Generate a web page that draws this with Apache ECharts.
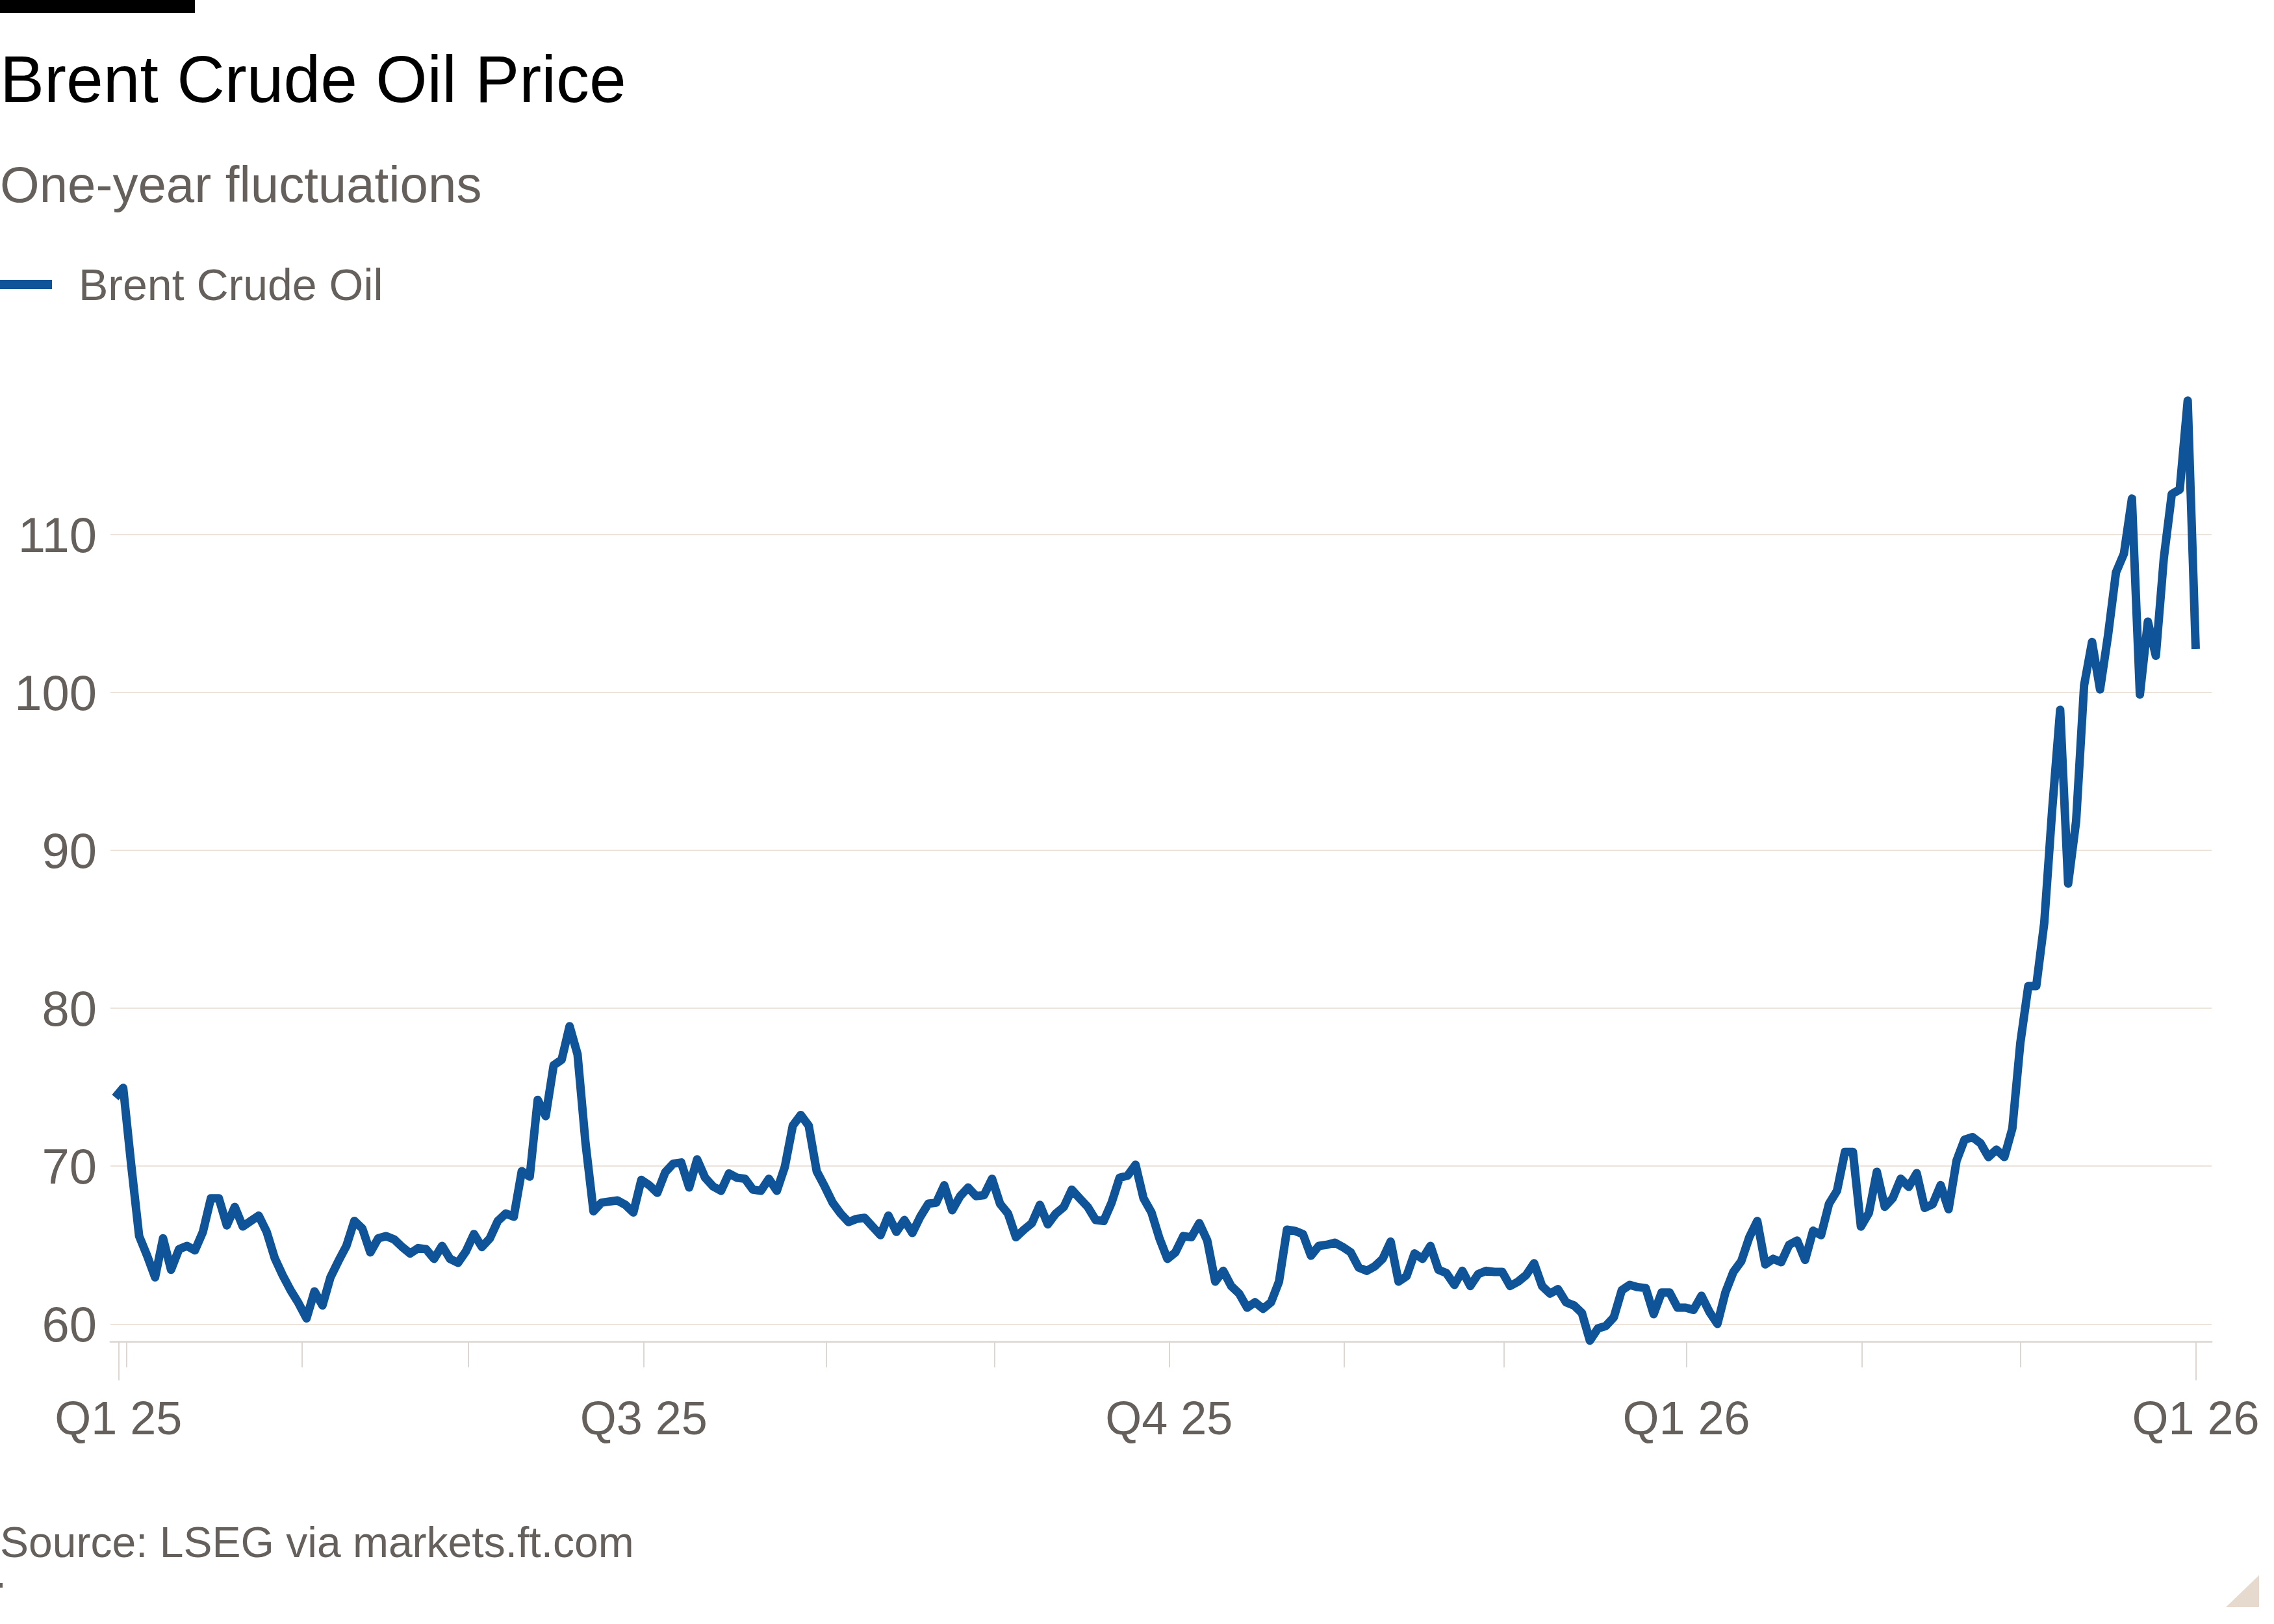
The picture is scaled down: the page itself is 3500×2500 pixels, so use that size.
<!DOCTYPE html>
<html>
<head>
<meta charset="utf-8">
<title>Brent Crude Oil Price</title>
<script src="https://cdn.jsdelivr.net/npm/echarts@6/dist/echarts.min.js"></script>
<style>
  html, body { margin: 0; padding: 0; background: #ffffff; }
  #chart { width: 3500px; height: 2500px; }
</style>
</head>
<body>
<div id="chart"></div>
<script>
// daily closes, one per trading day
const brentPrices = [
  74.35, 74.96, 70.10, 65.57, 64.33, 62.96, 65.43, 63.44, 64.74, 64.95,
  64.67, 65.84, 67.96, 67.96, 66.25, 67.42, 66.18, 66.53, 66.87, 65.84,
  64.19, 63.10, 62.14, 61.32, 60.36, 62.07, 61.18, 62.96, 63.99, 64.95,
  66.53, 66.05, 64.54, 65.43, 65.57, 65.36, 64.88, 64.47, 64.81, 64.74,
  64.13, 64.95, 64.13, 63.88, 64.61, 65.70, 64.88, 65.43, 66.53, 67.00,
  66.80, 69.68, 69.34, 74.20, 73.17, 76.39, 76.74, 78.86, 77.08, 71.46,
  67.14, 67.69, 67.76, 67.83, 67.55, 67.07, 69.13, 68.79, 68.31, 69.61,
  70.16, 70.23, 68.65, 70.43, 69.27, 68.72, 68.44, 69.54, 69.27, 69.20,
  68.51, 68.44, 69.20, 68.44, 69.95, 72.56, 73.24, 72.56, 69.68, 68.72,
  67.69, 67.00, 66.46, 66.66, 66.73, 66.18, 65.63, 66.87, 65.84, 66.59,
  65.77, 66.80, 67.62, 67.69, 68.79, 67.21, 68.10, 68.65, 68.10, 68.17,
  69.20, 67.62, 67.00, 65.50, 65.98, 66.39, 67.55, 66.32, 67.00, 67.42,
  68.51, 67.96, 67.42, 66.59, 66.53, 67.69, 69.27, 69.40, 70.09, 67.97,
  67.07, 65.43, 64.13, 64.54, 65.57, 65.50, 66.39, 65.29, 62.69, 63.37,
  62.41, 61.93, 61.04, 61.38, 60.97, 61.38, 62.69, 65.98, 65.90, 65.70,
  64.33, 64.95, 65.02, 65.15, 64.88, 64.54, 63.58, 63.37, 63.65, 64.13,
  65.22, 62.69, 63.03, 64.47, 64.13, 64.95, 63.44, 63.23, 62.48, 63.37,
  62.41, 63.17, 63.37, 63.30, 63.30, 62.41, 62.69, 63.10, 63.85, 62.41,
  61.93, 62.21, 61.38, 61.18, 60.70, 58.95, 59.72, 59.88, 60.43, 62.14,
  62.48, 62.34, 62.28, 60.63, 62.00, 62.00, 61.04, 61.04, 60.90, 61.79,
  60.77, 60.01, 62.00, 63.30, 63.99, 65.50, 66.53, 63.78, 64.13, 63.92,
  65.02, 65.29, 64.06, 65.91, 65.63, 67.62, 68.44, 70.90, 70.90, 66.17,
  67.04, 69.64, 67.43, 67.98, 69.21, 68.69, 69.56, 67.36, 67.59, 68.80,
  67.27, 70.35, 71.68, 71.84, 71.46, 70.58, 71.05, 70.58, 72.39, 77.80,
  81.41, 81.41, 85.40, 92.60, 98.90, 87.90, 91.85, 100.45, 103.20, 100.20,
  103.60, 107.60, 108.80, 112.28, 99.87, 104.49, 102.33, 108.50, 112.57, 112.86,
  118.49, 102.76
];

// y axis
const priceTicks = [60, 70, 80, 90, 100, 110];

// x axis, in trading-day positions
const monthTicks = [1.4, 23.4, 44.3, 66.3, 89.2, 110.3, 132.2, 154.2, 174.2, 197.1, 219.1, 239.0];
const endTicks = [0.4, 261];
const quarterTickPositions = [0.4, 66.3, 132.2, 197.1, 261];
const quarterLabels = ['Q1 25', 'Q3 25', 'Q4 25', 'Q1 26', 'Q1 26'];

const FONT = '"Liberation Sans", Arial, sans-serif';
const GREY = '#66605c';
const BLUE = '#0f5499';

const chart = echarts.init(document.getElementById('chart'), null, { renderer: 'svg' });

const seriesData = brentPrices.map((v, i) => [i, v]);

function quarterLabel(value) {
  let best = 0;
  quarterTickPositions.forEach((p, i) => {
    if (Math.abs(p - value) < Math.abs(quarterTickPositions[best] - value)) best = i;
  });
  return quarterLabels[best];
}

chart.setOption({
  animation: false,
  backgroundColor: '#ffffff',
  textStyle: { fontFamily: FONT },
  title: [
    {
      text: 'Brent Crude Oil Price',
      left: 0, top: 71, padding: 0,
      textStyle: { fontFamily: FONT, fontSize: 102, fontWeight: 'normal', color: '#000000' }
    },
    {
      text: 'One-year fluctuations',
      left: 0, top: 245, padding: 0,
      textStyle: { fontFamily: FONT, fontSize: 78, fontWeight: 'normal', color: GREY }
    },
    {
      text: 'Source: LSEG via markets.ft.com',
      left: 0, top: 2341, padding: 0,
      textStyle: { fontFamily: FONT, fontSize: 66, fontWeight: 'normal', color: GREY }
    }
  ],
  legend: {
    left: 0, top: 404, padding: 0,
    icon: 'rect',
    itemWidth: 80, itemHeight: 14,
    textStyle: { fontFamily: FONT, fontSize: 68, color: GREY, padding: [0, 0, 0, 36] },
    data: ['Brent Crude Oil']
  },
  grid: {
    left: 170, right: 96, top: 614, bottom: 435,
    containLabel: false,
    outerBoundsMode: 'none'
  },
  xAxis: [
    {
      type: 'value',
      min: -0.6, max: 263,
      position: 'bottom',
      axisLine: { show: true, lineStyle: { color: '#e0dbd6', width: 3 } },
      axisTick: { show: true, customValues: monthTicks, length: 40, lineStyle: { color: '#dcd7d2', width: 2 } },
      axisLabel: {
        show: true,
        customValues: quarterTickPositions,
        formatter: quarterLabel,
        margin: 82,
        fontFamily: FONT, fontSize: 72, color: GREY
      },
      splitLine: { show: false }
    },
    {
      type: 'value',
      min: -0.6, max: 263,
      position: 'bottom',
      axisLine: { show: false },
      axisTick: { show: true, customValues: endTicks, length: 60, lineStyle: { color: '#dcd7d2', width: 2 } },
      axisLabel: { show: false },
      splitLine: { show: false }
    }
  ],
  yAxis: {
    type: 'value',
    min: 58.9, max: 118.6,
    axisLine: { show: false },
    axisTick: { show: false, customValues: priceTicks },
    axisLabel: {
      customValues: priceTicks,
      margin: 21,
      fontFamily: FONT, fontSize: 76, color: GREY
    },
    splitLine: { show: true, lineStyle: { color: '#ece3da', width: 2 } }
  },
  series: [
    {
      name: 'Brent Crude Oil',
      type: 'line',
      xAxisIndex: 0,
      data: seriesData,
      symbol: 'none',
      showSymbol: false,
      clip: false,
      color: BLUE,
      lineStyle: { color: BLUE, width: 13, cap: 'butt', join: 'round' }
    }
  ],
  graphic: [
    { type: 'rect', left: 0, top: 0, shape: { width: 300, height: 20 }, style: { fill: '#000000' } },
    { type: 'rect', left: 0, top: 2437, shape: { width: 4, height: 7 }, style: { fill: GREY } },
    {
      type: 'polygon',
      shape: { points: [[3477, 2425], [3477, 2474], [3426, 2474]] },
      style: { fill: '#e6d9ce' }
    }
  ]
});
</script>
</body>
</html>
